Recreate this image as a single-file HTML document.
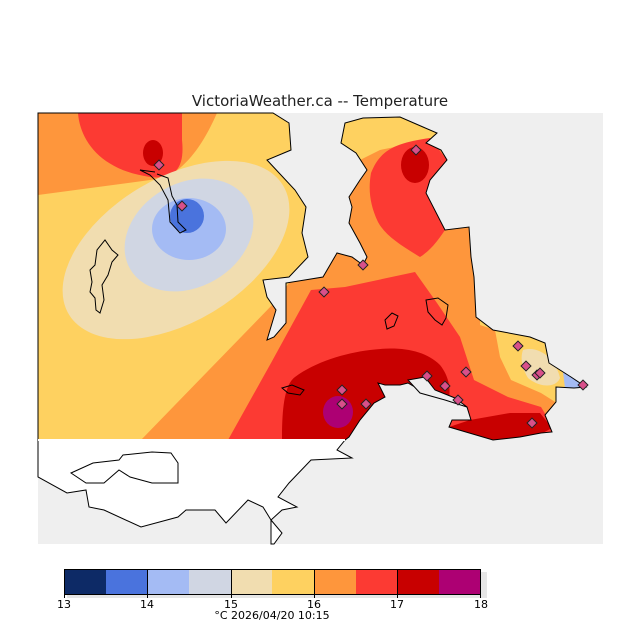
<!DOCTYPE html>
<html><head><meta charset="utf-8"><style>
html,body{margin:0;padding:0;background:#fff;}
svg{display:block;font-family:"DejaVu Sans","Liberation Sans",sans-serif;}
</style></head><body>
<svg width="640" height="640" viewBox="0 0 640 640" xmlns="http://www.w3.org/2000/svg">
<defs>
<clipPath id="land"><polygon id="lp" points="38,113 273,113 289,123 291,150 267,160 295,190 306,207 302,233 308,257 289,277 263,280 267,297 276,310 267,340 274,337 286,323 286,283 323,277 337,253 352,257 363,265 367,257 360,243 349,223 352,207 349,197 360,180 367,170 356,153 341,143 345,123 363,118 400,117 423,127 437,133 426,143 441,150 447,160 430,180 426,193 445,230 469,227 471,257 474,277 476,317 493,330 530,337 545,343 549,363 571,377 586,387 574,388 556,387 556,402 545,415 552,432 541,433 520,437 493,440 449,427 452,420 471,420 467,407 449,398 420,390 408,383 400,385 385,385 378,383 385,397 374,403 360,420 349,437 345,440 38,440"/></clipPath>
</defs>
<text x="320" y="106" text-anchor="middle" font-size="15" fill="#222">VictoriaWeather.ca -- Temperature</text>
<rect x="38" y="113" width="565" height="431" fill="#efefef"/>
<g clip-path="url(#land)">
<rect x="38" y="113" width="565" height="330" fill="#fed160"/>
<!-- orange regions -->
<path d="M38,113 L217,113 C205,140 190,165 165,178 L38,195 Z" fill="#fe963c"/>
<path d="M141,440 L274,303 L310,255 L345,200 L360,160 L380,150 L440,138 L480,140 L480,325 L495,330 L500,357 L511,380 L541,393 L560,405 L560,440 Z" fill="#fe963c"/>
<!-- east yellow/tan/blue -->
<path d="M523,350 C540,345 556,360 560,378 C556,388 540,388 528,378 C522,368 520,358 523,350 Z" fill="#f1ddb0"/>
<path d="M563,372 L586,380 L586,390 L565,388 Z" fill="#a4bbf4"/>
<!-- top red -->
<path d="M78,113 C80,140 100,170 150,177 C175,180 185,168 182,140 L182,113 Z" fill="#fc3a33"/>
<ellipse cx="153" cy="153" rx="10" ry="13" fill="#c80000"/>
<!-- cold core -->
<ellipse cx="176" cy="250" rx="125" ry="72" transform="rotate(-31 176 250)" fill="#f1ddb0"/>
<ellipse cx="189" cy="235" rx="68" ry="52" transform="rotate(-30 189 235)" fill="#d0d6e3"/>
<ellipse cx="189" cy="229" rx="37" ry="31" fill="#a4bbf4"/>
<ellipse cx="187" cy="216" rx="17" ry="17" fill="#4a73dd"/>
<!-- east red north -->
<path d="M371,173 C380,150 395,143 430,138 L447,160 L430,185 L426,193 L445,230 C435,245 428,252 420,257 C400,245 385,235 378,222 C370,205 368,190 371,173 Z" fill="#fc3a33"/>
<ellipse cx="415" cy="165" rx="14" ry="18" fill="#c80000"/>
<!-- red south -->
<path d="M228,440 L271,363 L311,290 L345,287 L415,272 L437,303 L460,337 L474,380 L508,397 L541,407 L552,425 L552,440 Z" fill="#fc3a33"/>
<path d="M282,440 C282,410 284,385 295,377 C315,362 345,353 370,350 C400,346 425,350 440,365 C452,380 450,395 448,405 L420,420 L360,440 Z" fill="#c80000"/>
<path d="M449,427 L470,420 L510,413 L540,413 L552,428 L530,440 L449,440 Z" fill="#c80000"/>
<ellipse cx="338" cy="412" rx="15" ry="16" fill="#ad0073"/>
</g>
<use href="#lp" fill="none" stroke="#000" stroke-width="1"/>
<!-- west island & lakes -->
<path d="M90,270 L95,265 L97,250 L105,240 L112,250 L118,255 L112,262 L108,275 L102,285 L104,300 L100,313 L96,310 L95,298 L90,292 L92,282 Z" fill="none" stroke="#000"/>
<path d="M157,174 L168,178 L172,196 L177,205 L178,222 L186,230 L180,233 L170,222 L168,200 L160,185 L150,175 L140,170 L155,172" fill="none" stroke="#000"/>
<path d="M426,300 L438,298 L448,305 L446,318 L442,325 L435,320 L428,312 Z" fill="none" stroke="#000"/>
<path d="M385,320 L392,313 L398,316 L394,326 L387,329 Z" fill="none" stroke="#000"/>
<path d="M282,388 L292,385 L304,390 L300,395 L288,393 Z" fill="none" stroke="#000"/>
<path d="M408,380 L425,377 L435,390 L455,398 L467,407 L445,400 L420,393 Z" fill="#efefef" stroke="#000"/>
<!-- south white land -->
<polygon points="38,440 345,440 337,450 352,458 311,460 289,483 278,497 297,507 282,510 271,520 282,533 274,544 271,544 271,520 263,507 248,500 226,523 215,510 186,510 178,517 141,527 104,510 89,507 86,490 67,493 38,477" fill="#fff" stroke="#000"/>
<polygon points="71,473 93,463 119,460 123,455 152,452 171,453 178,463 178,483 152,483 130,477 119,470 104,483 86,483" fill="#fff" stroke="#000"/>
<line x1="38" y1="440" x2="345" y2="440" stroke="#fff" stroke-width="2"/>
<!-- stations -->
<g fill="#d8508a" stroke="#222" stroke-width="1">
<rect x="-3.5" y="-3.5" width="7" height="7" transform="translate(159,165) rotate(45)"/>
<rect x="-3.5" y="-3.5" width="7" height="7" transform="translate(182,206) rotate(45)"/>
<rect x="-3.5" y="-3.5" width="7" height="7" transform="translate(416,150) rotate(45)"/>
<rect x="-3.5" y="-3.5" width="7" height="7" transform="translate(363,265) rotate(45)"/>
<rect x="-3.5" y="-3.5" width="7" height="7" transform="translate(324,292) rotate(45)"/>
<rect x="-3.5" y="-3.5" width="7" height="7" transform="translate(518,346) rotate(45)"/>
<rect x="-3.5" y="-3.5" width="7" height="7" transform="translate(526,366) rotate(45)"/>
<rect x="-3.5" y="-3.5" width="7" height="7" transform="translate(537,375) rotate(45)"/>
<rect x="-3.5" y="-3.5" width="7" height="7" transform="translate(540,373) rotate(45)"/>
<rect x="-3.5" y="-3.5" width="7" height="7" transform="translate(583,385) rotate(45)"/>
<rect x="-3.5" y="-3.5" width="7" height="7" transform="translate(427,376) rotate(45)"/>
<rect x="-3.5" y="-3.5" width="7" height="7" transform="translate(466,372) rotate(45)"/>
<rect x="-3.5" y="-3.5" width="7" height="7" transform="translate(445,386) rotate(45)"/>
<rect x="-3.5" y="-3.5" width="7" height="7" transform="translate(342,390) rotate(45)"/>
<rect x="-3.5" y="-3.5" width="7" height="7" transform="translate(342,404) rotate(45)"/>
<rect x="-3.5" y="-3.5" width="7" height="7" transform="translate(366,404) rotate(45)"/>
<rect x="-3.5" y="-3.5" width="7" height="7" transform="translate(458,400) rotate(45)"/>
<rect x="-3.5" y="-3.5" width="7" height="7" transform="translate(532,423) rotate(45)"/>
</g>
<!-- colorbar -->
<rect x="67" y="572" width="420" height="26" fill="#e6e6e6"/>
<rect x="64" y="569" width="42" height="25" fill="#0d2a66"/>
<rect x="106" y="569" width="41" height="25" fill="#4a73dd"/>
<rect x="147" y="569" width="42" height="25" fill="#a4bbf4"/>
<rect x="189" y="569" width="42" height="25" fill="#d0d6e3"/>
<rect x="231" y="569" width="41" height="25" fill="#f1ddb0"/>
<rect x="272" y="569" width="42" height="25" fill="#fed160"/>
<rect x="314" y="569" width="42" height="25" fill="#fe963c"/>
<rect x="356" y="569" width="41" height="25" fill="#fc3a33"/>
<rect x="397" y="569" width="42" height="25" fill="#c80000"/>
<rect x="439" y="569" width="42" height="25" fill="#ad0073"/>
<g stroke="#000" stroke-width="1" fill="none">
<rect x="64.5" y="569.5" width="416" height="25"/>
<line x1="147.5" y1="569" x2="147.5" y2="598"/>
<line x1="231.5" y1="569" x2="231.5" y2="598"/>
<line x1="314.5" y1="569" x2="314.5" y2="598"/>
<line x1="397.5" y1="569" x2="397.5" y2="598"/>
<line x1="64.5" y1="594" x2="64.5" y2="598"/>
<line x1="480.5" y1="594" x2="480.5" y2="598"/>
</g>
<g font-size="11" fill="#000" text-anchor="middle">
<text x="64" y="608">13</text><text x="147" y="608">14</text><text x="231" y="608">15</text>
<text x="314" y="608">16</text><text x="397" y="608">17</text><text x="481" y="608">18</text>
<text x="272" y="619">°C  2026/04/20 10:15</text>
</g>
</svg>
</body></html>
